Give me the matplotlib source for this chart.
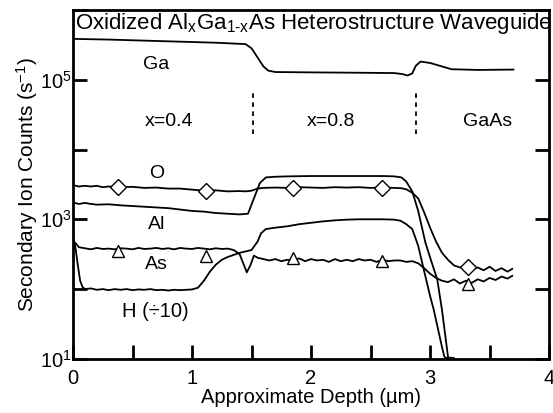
import numpy as np
import matplotlib
matplotlib.use("Agg")
import matplotlib.pyplot as plt

plt.rcParams['font.family'] = ['Liberation Sans', 'DejaVu Sans']
plt.rcParams['mathtext.fontset'] = 'custom'
plt.rcParams['mathtext.rm'] = 'Liberation Sans'
plt.rcParams['mathtext.it'] = 'Liberation Sans:italic'

# depth profiles, values are log10(counts/s)
ga_x = [0.00, 0.30, 0.60, 0.90, 1.20, 1.45, 1.50, 1.55, 1.60, 1.64, 1.70, 2.00, 2.40,
        2.70, 2.77, 2.81, 2.85, 2.88, 2.92, 3.00, 3.10, 3.18, 3.40, 3.70]
ga_log = [5.585, 5.575, 5.56, 5.545, 5.53, 5.51, 5.45, 5.32, 5.19, 5.13, 5.11, 5.105, 5.10,
          5.095, 5.08, 5.06, 5.09, 5.20, 5.26, 5.24, 5.19, 5.15, 5.14, 5.145]

o_x = [0.00, 0.05, 0.10, 0.15, 0.20, 0.25, 0.30, 0.40, 0.50, 0.60, 0.70, 0.80, 0.90,
       1.00, 1.10, 1.20, 1.30, 1.40, 1.45, 1.50, 1.55, 1.60, 1.70, 1.80, 1.90, 2.00,
       2.10, 2.20, 2.30, 2.40, 2.50, 2.60, 2.70, 2.76, 2.80, 2.85, 2.90, 2.95, 3.00,
       3.05, 3.10, 3.15, 3.20, 3.25, 3.30, 3.35, 3.40, 3.45, 3.50, 3.55, 3.60, 3.65, 3.69]
o_log = [3.49, 3.47, 3.48, 3.47, 3.48, 3.46, 3.47, 3.46, 3.465, 3.45, 3.455, 3.44, 3.44,
         3.425, 3.41, 3.415, 3.40, 3.405, 3.40, 3.41, 3.44, 3.45, 3.455, 3.45, 3.46, 3.455,
         3.45, 3.46, 3.455, 3.46, 3.45, 3.455, 3.45, 3.445, 3.43, 3.38, 3.30, 3.10, 2.88,
         2.68, 2.52, 2.42, 2.34, 2.31, 2.33, 2.28, 2.31, 2.27, 2.32, 2.26, 2.30, 2.25, 2.29]

al_x = [0.00, 0.05, 0.10, 0.15, 0.20, 0.30, 0.40, 0.50, 0.60, 0.70, 0.80, 0.90, 1.00,
        1.10, 1.20, 1.30, 1.40, 1.47, 1.52, 1.57, 1.62, 1.70, 1.80, 2.00, 2.20, 2.40,
        2.60, 2.70, 2.76, 2.80, 2.85, 2.90, 2.96, 3.01, 3.06, 3.10, 3.14, 3.16]
al_log = [3.24, 3.22, 3.235, 3.22, 3.21, 3.215, 3.20, 3.19, 3.18, 3.17, 3.16, 3.14, 3.12,
          3.11, 3.09, 3.08, 3.07, 3.08, 3.30, 3.52, 3.60, 3.61, 3.615, 3.62, 3.62, 3.62,
          3.62, 3.615, 3.60, 3.54, 3.40, 3.12, 2.67, 2.40, 2.14, 1.70, 1.17, 0.90]

as_x = [0.00, 0.02, 0.05, 0.10, 0.15, 0.20, 0.25, 0.30, 0.35, 0.40, 0.45, 0.50, 0.55,
        0.60, 0.65, 0.70, 0.75, 0.80, 0.85, 0.90, 0.95, 1.00, 1.05, 1.10, 1.15, 1.20,
        1.25, 1.30, 1.35, 1.40, 1.43, 1.46, 1.49, 1.52, 1.55, 1.60, 1.65, 1.70, 1.75,
        1.80, 1.85, 1.90, 1.95, 2.00, 2.05, 2.10, 2.15, 2.20, 2.25, 2.30, 2.35, 2.40,
        2.45, 2.50, 2.55, 2.60, 2.65, 2.70, 2.75, 2.80, 2.85, 2.90, 2.95, 3.00, 3.05,
        3.10, 3.15, 3.20, 3.25, 3.30, 3.35, 3.40, 3.45, 3.50, 3.55, 3.60, 3.65, 3.69]
as_log = [2.68, 2.66, 2.60, 2.585, 2.57, 2.59, 2.575, 2.58, 2.57, 2.585, 2.58, 2.57, 2.59,
          2.575, 2.58, 2.59, 2.575, 2.585, 2.57, 2.59, 2.58, 2.575, 2.59, 2.58, 2.57, 2.585,
          2.575, 2.58, 2.56, 2.50, 2.37, 2.24, 2.34, 2.48, 2.45, 2.43, 2.41, 2.43, 2.40,
          2.42, 2.41, 2.44, 2.40, 2.43, 2.41, 2.42, 2.39, 2.43, 2.40, 2.42, 2.40, 2.43,
          2.41, 2.42, 2.39, 2.42, 2.40, 2.41, 2.41, 2.39, 2.40, 2.37, 2.30, 2.22, 2.16,
          2.12, 2.10, 2.14, 2.08, 2.12, 2.09, 2.14, 2.11, 2.16, 2.13, 2.18, 2.15, 2.19]

h_x = [0.00, 0.02, 0.04, 0.06, 0.08, 0.10, 0.15, 0.20, 0.25, 0.30, 0.35, 0.40, 0.45,
       0.50, 0.55, 0.60, 0.65, 0.70, 0.75, 0.80, 0.85, 0.90, 0.95, 1.00, 1.05, 1.10,
       1.15, 1.20, 1.25, 1.30, 1.35, 1.40, 1.45, 1.50, 1.55, 1.58, 1.62, 1.70, 1.80,
       1.90, 2.00, 2.10, 2.20, 2.30, 2.40, 2.50, 2.60, 2.70, 2.75, 2.80, 2.85, 2.90,
       2.94, 3.00, 3.03, 3.07, 3.10, 3.12, 3.14, 3.17, 3.20]
h_log = [2.75, 2.60, 2.35, 2.12, 2.03, 2.00, 2.01, 1.99, 2.00, 1.985, 2.00, 1.99, 2.00,
         1.985, 1.995, 1.99, 2.00, 1.985, 1.99, 1.98, 1.99, 1.985, 1.99, 1.995, 2.02, 2.12,
         2.25, 2.35, 2.42, 2.46, 2.49, 2.52, 2.54, 2.56, 2.68, 2.80, 2.86, 2.88, 2.90,
         2.93, 2.95, 2.97, 2.985, 2.995, 3.00, 3.00, 3.00, 2.995, 2.98, 2.93, 2.86, 2.62,
         2.33, 1.90, 1.71, 1.40, 1.17, 1.03, 1.01, 1.02, 1.01]

mark_x = [0.38, 1.12, 1.85, 2.60, 3.32]
o_mark_log = [3.465, 3.41, 3.455, 3.455, 2.31]
as_mark_log = [2.54, 2.48, 2.44, 2.40, 2.07]

region_x = [0.81, 2.17, 3.48]
region_labels = ['x=0.4', 'x=0.8', 'GaAs']
boundary_x = [1.51, 2.88]

fig = plt.figure(figsize=(5.53, 4.13), dpi=100)
ax = fig.add_axes([0.132, 0.131, 0.861, 0.845])

lw = 1.3
for xs, ys in [(ga_x, ga_log), (o_x, o_log), (al_x, al_log), (as_x, as_log), (h_x, h_log)]:
    ax.plot(xs, np.power(10.0, ys), color='black', lw=lw)

ax.plot(mark_x, np.power(10.0, o_mark_log), 'D', ms=8, mfc='white', mec='black', mew=1.0)
ax.plot(mark_x, np.power(10.0, as_mark_log), '^', ms=9, mfc='white', mec='black', mew=1.0)

for bx in boundary_x:
    ax.plot([bx, bx], [10**4.22, 10**4.82], color='black', lw=1.3, ls=(0, (2.5, 2.5)))

for rx, lab in zip(region_x, region_labels):
    ax.text(rx, 10**4.40, lab, ha='center', va='center', fontsize=14)

ax.text(0.70, 10**5.22, 'Ga', ha='center', va='center', fontsize=14)
ax.text(0.70, 10**3.66, 'O', ha='center', va='center', fontsize=14)
ax.text(0.70, 10**2.92, 'Al', ha='center', va='center', fontsize=14)
ax.text(0.70, 10**2.355, 'As', ha='center', va='center', fontsize=14)
ax.text(0.69, 10**1.68, 'H (÷10)', ha='center', va='center', fontsize=14.5)

ax.text(0.004, 0.998, r'Oxidized Al$_\mathregular{x}$Ga$_\mathregular{1\text{-}x}$As Heterostructure Waveguide',
        transform=ax.transAxes, ha='left', va='top', fontsize=16)

ax.set_yscale('log')
ax.set_xlim(0, 4)
ax.set_ylim(10, 1e6)

ax.set_xticks(np.arange(0, 4.01, 0.5))
ax.set_xticklabels(['0', '', '1', '', '2', '', '3', '', '4'])
ax.set_yticks([1e1, 1e2, 1e3, 1e4, 1e5, 1e6])
ax.set_yticklabels([r'$\mathregular{10^1}$', '', r'$\mathregular{10^3}$', '',
                    r'$\mathregular{10^5}$', ''])
ax.yaxis.set_minor_locator(matplotlib.ticker.NullLocator())
ax.tick_params(axis='x', direction='in', length=10, width=2, labelsize=14.5, pad=7, top=False)
ax.tick_params(axis='y', direction='in', length=10, width=2, labelsize=14.5, pad=1, right=True)

for s in ax.spines.values():
    s.set_linewidth(2)

ax.set_xlabel('Approximate Depth (µm)', fontsize=14.5, labelpad=0)
ax.set_ylabel(r'Secondary Ion Counts (s$^\mathregular{-1}$)', fontsize=15, labelpad=0)

fig.savefig('out.png', dpi=100)
